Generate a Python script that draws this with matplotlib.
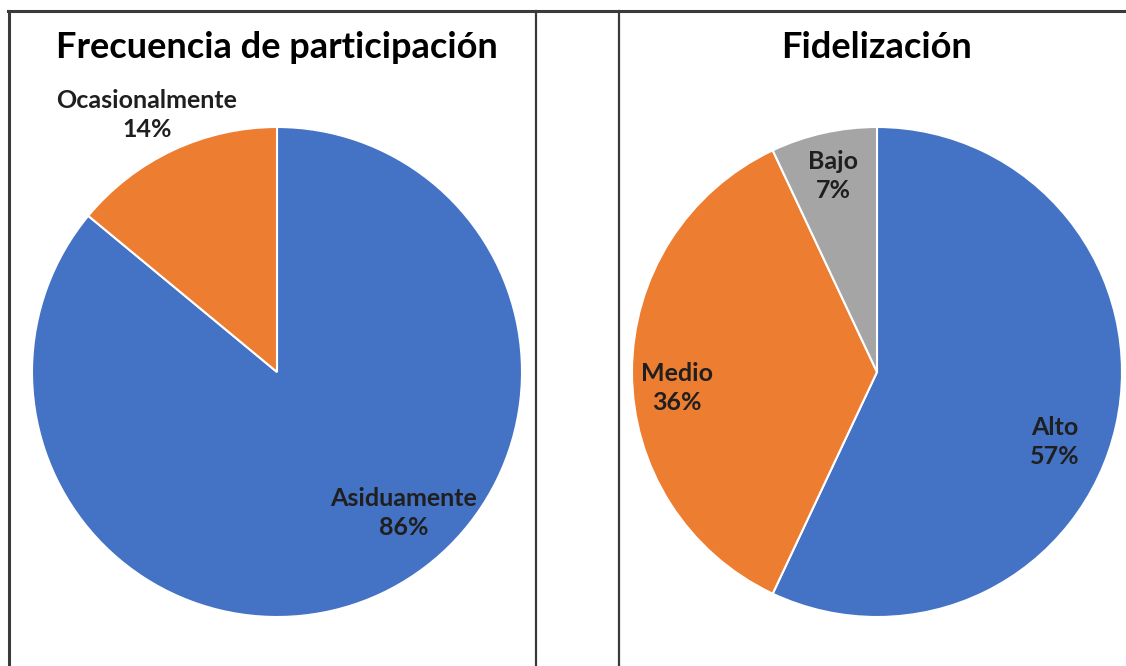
import matplotlib
matplotlib.use('Agg')
from matplotlib import pyplot as plt
from matplotlib.lines import Line2D

plt.rcParams['font.family'] = ['Lato', 'DejaVu Sans']

# data
freq_labels = ['Asiduamente', 'Ocasionalmente']
freq_values = [86, 14]
fid_labels = ['Alto', 'Medio', 'Bajo']
fid_values = [57, 36, 7]

blue = '#4472C4'
orange = '#ED7D31'
gray = '#A5A5A5'
txt = '#1f1f1f'

W, H = 1126, 666
fig = plt.figure(figsize=(W / 100, H / 100), dpi=100)
R = 245


def pie_axes(cx, cy):
    ax = fig.add_axes([(cx - R) / W, (H - cy - R) / H, 2 * R / W, 2 * R / H])
    return ax


def draw(ax, values, labels, colors, label_px, cx, cy, title):
    ax.pie(values, colors=colors, startangle=90, counterclock=False,
           wedgeprops=dict(edgecolor='white', linewidth=1.5))
    ax.set_xlim(-1, 1)
    ax.set_ylim(-1, 1)
    ax.set_aspect('auto')
    ax.axis('off')
    for lab, v, (px, py) in zip(labels, values, label_px):
        ax.text((px - cx) / R, (cy - py) / R, f'{lab}\n{v}%', ha='center', va='center',
                fontsize=18, fontweight='bold', color=txt, linespacing=1.3)
    fig.text(cx / W, 1 - 48 / H, title, ha='center', va='center',
             fontsize=26, fontweight='bold', color='black')


ax1 = pie_axes(277, 372)
draw(ax1, freq_values, freq_labels, [blue, orange], [(404, 513), (147, 115)],
     277, 372, 'Frecuencia de participación')

ax2 = pie_axes(877, 372)
draw(ax2, fid_values, fid_labels, [blue, orange, gray],
     [(1055, 442), (677, 388), (833, 176)], 877, 372, 'Fidelización')

# table-like frame
def px_line(x0, y0, x1, y1, lw=2.2):
    fig.add_artist(Line2D([x0 / W, x1 / W], [1 - y0 / H, 1 - y1 / H],
                          transform=fig.transFigure, color='#3a3a3a', linewidth=lw))

px_line(8, 11, W, 11)
px_line(9, 11, 9, H)
px_line(536, 11, 536, H, 1.6)
px_line(619, 11, 619, H, 1.6)

fig.savefig('out.png', dpi=100)
